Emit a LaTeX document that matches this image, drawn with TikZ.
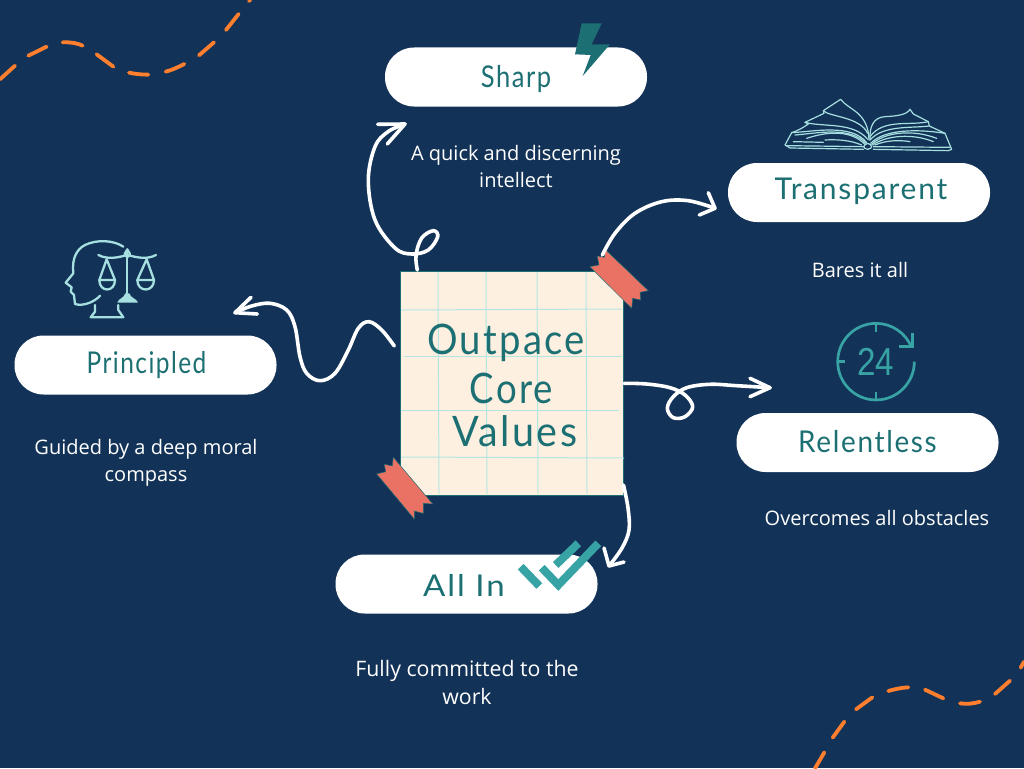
\documentclass[tikz,border=0pt]{standalone}
\usepackage{fontspec}
\setmainfont{Open Sans}
\newfontfamily\handfont[LetterSpace=6]{Lato}
\newfontfamily\clockfont{Liberation Sans}
\definecolor{bgnavy}{HTML}{133257}
\definecolor{tealtext}{HTML}{1C6F72}
\definecolor{paper}{HTML}{FDF0E1}
\definecolor{gridline}{HTML}{B5E5E3}
\definecolor{tapered}{HTML}{E97265}
\definecolor{iconpale}{HTML}{A6DFE0}
\definecolor{icontteal}{HTML}{38A3A5}
\definecolor{dashorange}{HTML}{FF7F2E}
\tikzset{
  pill/.style={fill=white,rounded corners=29pt,minimum width=262pt,minimum height=59pt,inner sep=0pt},
  handlabel/.style={text=tealtext,inner sep=0pt,font=\handfont\fontsize{30}{34}\selectfont},
  bigtext/.style={text=tealtext,inner sep=0pt,font=\handfont\fontsize{42}{46}\selectfont},
  caption/.style={text=white,align=center,inner sep=0pt,font=\fontsize{20}{27.5}\selectfont},
  curly/.style={draw=white,line width=3.6pt,line cap=round,line join=round},
  orangedash/.style={draw=dashorange,line width=3.8pt,line cap=round,line join=round},
  gridrule/.style={draw=gridline,line width=1pt},
  tape/.style={fill=tapered,draw=tealtext,line width=.5pt},
  book/.style={draw=iconpale,line width=1.2pt,line join=round,line cap=round},
  scaleicon/.style={draw=iconpale,line width=2.3pt,line join=round,line cap=round},
  clockicon/.style={draw=icontteal,line width=2.7pt,line cap=butt},
  checkicon/.style={draw=icontteal,line width=8pt,line cap=butt,line join=miter},
}
\begin{document}
\begin{tikzpicture}[x=1pt,y=-1pt]
\fill[bgnavy] (0,0) rectangle (1024,768);
\useasboundingbox (0,0) rectangle (1024,768);

% orange dashes, top left
\begin{scope}[x=.3333pt,y=-.3333pt]
\draw[orangedash] (0,238) -- (45,197);
\draw[orangedash] (85,167) -- (140,140);
\draw[orangedash] (188,127) .. controls (215,126) and (232,130) .. (248,137);
\draw[orangedash] (290,163) -- (340,200);
\draw[orangedash] (387,218) .. controls (405,222) and (425,224) .. (445,224);
\draw[orangedash] (497,215) .. controls (517,210) and (535,201) .. (553,192);
\draw[orangedash] (597,166) -- (642,127);
\draw[orangedash] (678,90) -- (716,42);
\draw[orangedash] (747,3) -- (751,0);
\end{scope}
% orange dashes, bottom right
\begin{scope}[shift={(810,655)},x=.3333pt,y=-.3333pt]
\draw[orangedash] (15,340) -- (43,292);
\draw[orangedash] (68,248) -- (103,200);
\draw[orangedash] (138,163) -- (187,127);
\draw[orangedash] (235,108) .. controls (255,102) and (275,98) .. (295,97);
\draw[orangedash] (345,104) -- (400,130);
\draw[orangedash] (450,145) .. controls (470,148) and (490,146) .. (510,140);
\draw[orangedash] (555,117) -- (600,77);
\draw[orangedash] (632,38) -- (642,20);
\end{scope}

% the note
\node[fill=paper,draw=tealtext,line width=.5pt,minimum width=223pt,minimum height=224pt,inner sep=0pt] (note) at (511.5,383) {};
\foreach \gx in {438,486,537,586}{
  \draw[gridrule] (\gx,272) -- (\gx+1,494);
}
\draw[gridrule] (401,310) -- (622,309);
\draw[gridrule] (404,356) -- (622,356);
\draw[gridrule] (401,410) -- (619,410);
\draw[gridrule] (401,457) -- (624,458);
\node[bigtext,xscale=.91] (noteA) at (506,343) {Outpace};
\node[bigtext,xscale=.87] (noteB) at (511.5,388) {Core};
\node[bigtext,xscale=.94] (noteC) at (515,431) {Values};

% tapes
\draw[tape] (590,266.7) -- (599,265) -- (597.3,256) -- (604.3,257.3) -- (605,249.3) -- (648.3,290.7) -- (640,292.3) -- (640.7,300) -- (632.7,298.3) -- (631.7,308.3) -- cycle;
\draw[tape] (376.7,474) -- (385.7,471.7) -- (384.3,464.3) -- (392.3,466) -- (393.3,457.3) -- (432.7,504) -- (423.3,503.3) -- (423.3,513.3) -- (414.3,511) -- (414.3,519) -- cycle;

% pills
\node[pill] (sharp) at (516,77) {};
\node[pill] (transparent) at (859,192.5) {};
\node[pill] (principled) at (145.5,365) {};
\node[pill] (relentless) at (867.5,442.5) {};
\node[pill] (allin) at (466.5,584) {};
\node[handlabel,xscale=.85] (sharpT) at (516,79) {Sharp};
\node[handlabel] (transparentT) at (861,191) {Transparent};
\node[handlabel,xscale=.815] (principledT) at (146.5,365) {Principled};
\node[handlabel,xscale=.93] (relentlessT) at (867.5,442) {Relentless};
\node[handlabel,xscale=1.1] (allinT) at (464,585) {All In};

% captions
\node[caption] (capSharp) at (516,166.5) {A quick and discerning\\intellect};
\node[caption] (capTrans) at (860,270) {Bares it all};
\node[caption] (capPrin) at (146,463) {Guided by a deep moral\\compass};
\node[caption] (capRel) at (877,518) {Overcomes all obstacles};
\node[caption,font=\fontsize{21.3}{28.5}\selectfont] (capAll) at (467,682.5) {Fully committed to the\\work};

% connector end points
\coordinate (sharpStart) at (417.3,270);
\coordinate (sharpTip) at (405,124);
\coordinate (prinStart) at (394.3,346);
\coordinate (prinTip) at (235,312.7);
\coordinate (relStart) at (624,383.3);
\coordinate (relTip) at (770,387.7);
\coordinate (transStart) at (602.3,255);
\coordinate (transTip) at (715,208.3);
\coordinate (allStart) at (623.5,485);
\coordinate (allTip) at (609,566);

% connectors
\draw[curly] plot[smooth,tension=.6] coordinates {(sharpStart) (416,255) (421.7,238) (433.3,230.7) (437.7,236.7) (428.3,250) (411.7,254) (395,248) (375,220) (368.3,180) (375,146.7) (388,131.7) (sharpTip)};
\draw[curly] (377.7,124.3) -- (sharpTip) -- (387.3,144);

\draw[curly] plot[smooth,tension=.6] coordinates {(prinStart) (381.7,330) (369,321.7) (358.3,328.3) (348.3,350) (335,373.3) (320,380.7) (306.7,373.3) (300,356.7) (295,326.7) (286.7,310) (270,303.3) (251.7,306) (prinTip)};
\draw[curly] (251,297.3) -- (prinTip) -- (257.3,314);

\draw[curly] plot[smooth,tension=.6] coordinates {(relStart) (646.7,384) (670,387.7) (685,395) (692.7,406.7) (685,416.7) (673.3,417.7) (667.3,408.3) (673.3,396.7) (686.7,387.7) (710,384.3) (736.7,385.7) (relTip)};
\draw[curly] (750,378.3) -- (relTip) -- (750,396.7);

\draw[curly] plot[smooth,tension=.6] coordinates {(transStart) (615,233.3) (635,213.3) (661.7,201.7) (688.3,200.7) (transTip)};
\draw[curly] (708.3,192.7) -- (transTip) -- (699.3,215);

\draw[curly] plot[smooth,tension=.6] coordinates {(allStart) (628,508) (629,530) (622,548) (allTip)};
\draw[curly] (604,548) -- (allTip) -- (624,562);

% bolt
\fill[tealtext] (581.7,23.3) -- (601.7,23.3) -- (591.7,44.3) -- (610,44.3) -- (582.7,76) -- (590.7,55) -- (575,54.3) -- cycle;

% check marks
\draw[checkicon] (520.7,566.7) -- (539.3,586);
\draw[checkicon] (541.7,567.7) -- (558.3,585) -- (598.3,543.3);
\draw[checkicon] (555.7,565) -- (578.3,543.3);

% clock
\begin{scope}[shift={(820,310)},x=.3333pt,y=-.3333pt]
\draw[clockicon] (283,155) arc[start angle=0,end angle=-338,radius=38.3pt];
\draw[clockicon] (168,42) -- (168,65);
\draw[clockicon] (52,155) -- (76,155);
\draw[clockicon] (168,245) -- (168,268);
\draw[clockicon,line join=miter] (277,70) -- (277,110) -- (236,110);
\end{scope}
\node[text=icontteal,inner sep=0pt,xscale=.85,font=\clockfont\fontsize{39}{41}\selectfont] (clock24) at (875.5,362) {24};

% scales and head
\begin{scope}[shift={(50,230)},x=.3333pt,y=-.3333pt]
\draw[scaleicon] (220,50) .. controls (190,30) and (140,28) .. (105,45) .. controls (80,58) and (65,85) .. (70,130) -- (47,158) -- (65,172) -- (62,185) -- (72,195) -- (75,222) .. controls (100,230) and (135,215) .. (150,197);
\draw[scaleicon] (135,225) -- (135,245) -- (122,262) -- (220,262) -- (205,240) -- (205,225);
\draw[scaleicon] (232,60) -- (232,190);
\draw[scaleicon] (145,75) .. controls (175,90) and (205,82) .. (232,75) .. controls (260,82) and (290,90) .. (318,75);
\draw[scaleicon] (232,58) -- (240,72) -- (232,82) -- (224,72) -- cycle;
\draw[scaleicon] (170,88) -- (148,150) -- (195,150) -- cycle;
\draw[scaleicon] (148,150) .. controls (148,188) and (195,188) .. (195,150);
\draw[scaleicon] (290,88) -- (262,150) -- (312,150) -- cycle;
\draw[scaleicon] (262,150) .. controls (262,188) and (312,188) .. (312,150);
\fill[iconpale] (202,218) .. controls (205,205) and (222,205) .. (226,190) -- (238,190) .. controls (242,205) and (260,205) .. (264,218) -- cycle;
\end{scope}

% book
\begin{scope}[shift={(770,90)},x=.3333pt,y=-.3333pt]
\draw[book] (280,178) -- (60,174) -- (45,165) -- (65,128) .. controls (85,122) and (100,112) .. (115,102) -- (105,97) -- (162,70) -- (160,62) -- (212,28) .. controls (235,60) and (295,65) .. (297,150);
\draw[book] (160,62) .. controls (175,80) and (270,80) .. (293,130);
\draw[book] (105,97) .. controls (160,112) and (250,95) .. (293,148);
\draw[book] (65,128) .. controls (130,125) and (245,100) .. (290,158);
\draw[book] (75,135) .. controls (140,130) and (240,108) .. (288,160);
\draw[book] (110,145) .. controls (170,125) and (240,118) .. (285,163);
\draw[book] (70,155) -- (160,157);
\draw[book] (165,150) .. controls (200,148) and (240,150) .. (275,165);
\draw[book] (50,167) -- (280,170);
\draw[book] (310,178) -- (535,182) -- (545,178) -- (525,130) -- (478,108) -- (475,95) -- (430,72) -- (420,58) .. controls (410,75) and (380,78) .. (345,80) .. controls (310,82) and (298,110) .. (300,150);
\draw[book] (475,95) .. controls (420,108) and (340,85) .. (300,140);
\draw[book] (478,108) .. controls (420,115) and (340,105) .. (300,150);
\draw[book] (525,130) .. controls (450,118) and (345,115) .. (302,160);
\draw[book] (500,145) .. controls (430,118) and (345,125) .. (305,163);
\draw[book] (490,155) .. controls (430,130) and (350,135) .. (308,165);
\draw[book] (420,155) .. controls (390,150) and (350,150) .. (315,165);
\draw[book] (310,170) -- (540,172);
\draw[book] (293,160) .. controls (280,165) and (275,175) .. (293,178) .. controls (310,175) and (308,165) .. (293,160);
\end{scope}
\end{tikzpicture}
\end{document}
